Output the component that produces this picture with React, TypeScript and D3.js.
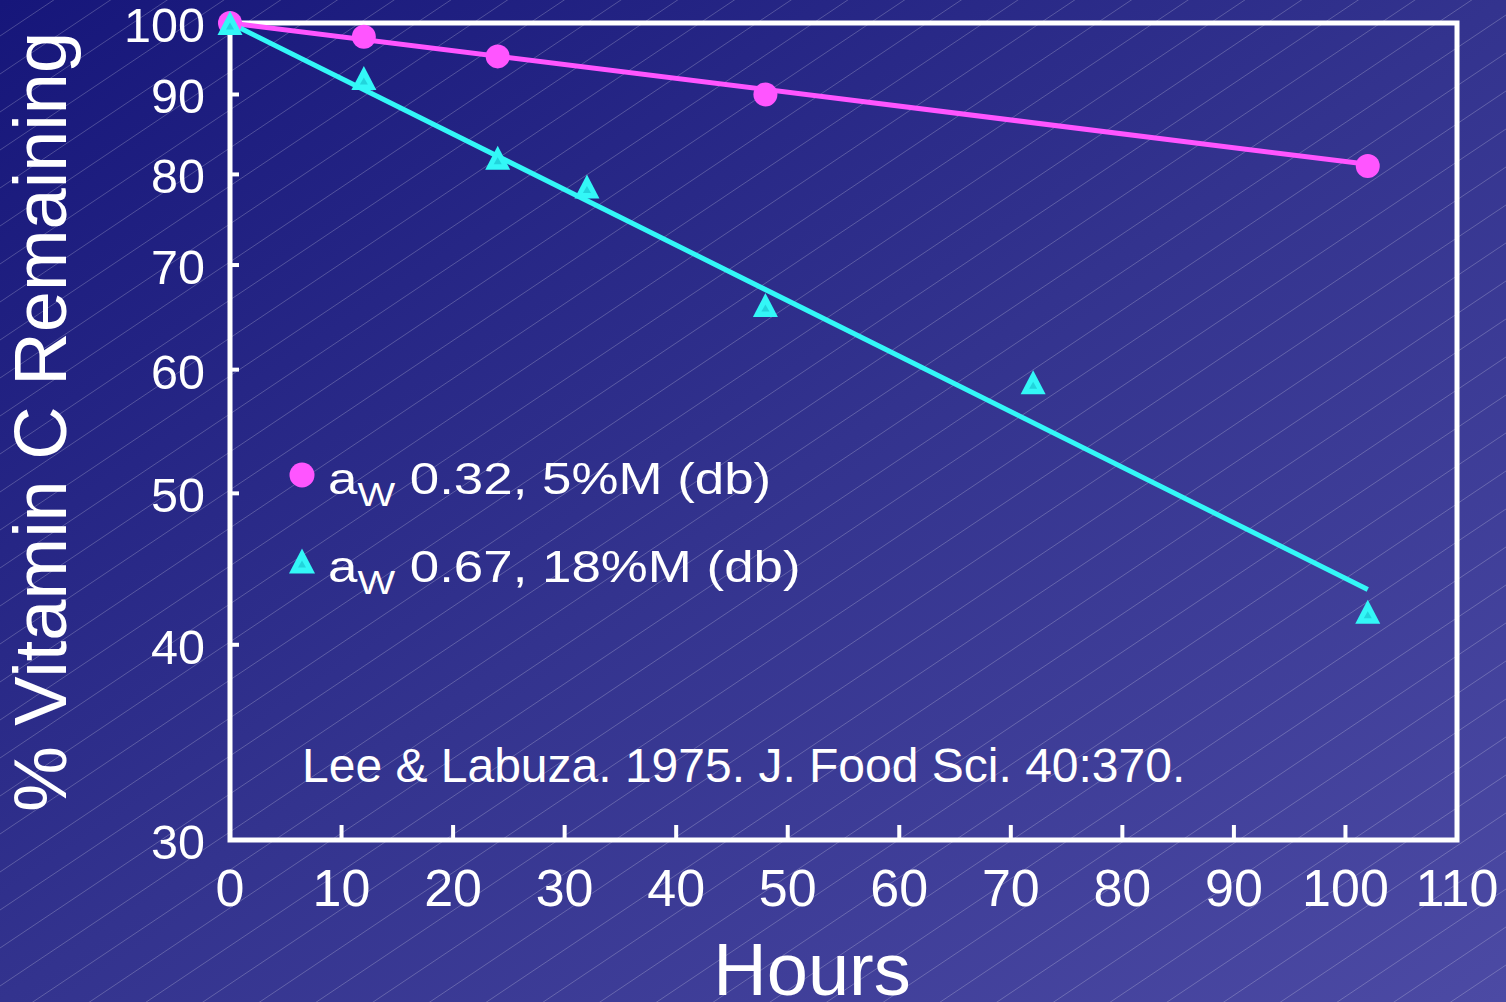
import React from "react";
import * as d3 from "d3";

// ---- data ----
const hoursLow = [0, 12, 24, 48, 102];
const vitCLow = [100, 98, 95.2, 90, 81];
const hoursHigh = [0, 12, 24, 32, 48, 72, 102];
const vitCHigh = [100, 92.2, 82, 78.6, 66, 58.9, 42];
const fitHours = [0, 102];
const fitLow = [100, 81.2];
const fitHigh = [100, 43.4];
const xTicks = [0, 10, 20, 30, 40, 50, 60, 70, 80, 90, 100, 110];
const yTicks = [30, 40, 50, 60, 70, 80, 90, 100];
const legendLabels = [
  { sub: "W", rest: " 0.32, 5%M (db)" },
  { sub: "W", rest: " 0.67, 18%M (db)" },
];
const citation = "Lee & Labuza. 1975. J. Food Sci. 40:370.";
const xTitle = "Hours";
const yTitle = "% Vitamin C Remaining";

const W = 1506;
const H = 1002;
const PINK = "#ff55ff";
const CYAN = "#33f7f7";
const FONT = "'Liberation Sans', Arial, Helvetica, sans-serif";

export default function App() {
  const x = d3.scaleLinear().domain([0, 110]).range([230, 1457]);
  const y = d3.scaleLog().domain([30, 100]).range([840, 23]);

  const line = d3
    .line<[number, number]>()
    .x((d) => x(d[0]))
    .y((d) => y(d[1]));

  const tri = (cx: number, cy: number, w: number, h: number) =>
    `M${cx},${cy - h / 2}L${cx + w / 2},${cy + h / 2}L${cx - w / 2},${cy + h / 2}Z`;

  // decorative diagonal hatch lines
  const hatch: number[] = [];
  for (let c = -40; c < H + W * 0.67 + 40; c += 38) hatch.push(c);

  return (
    <svg
      width={W}
      height={H}
      style={{ position: "absolute", left: 0, top: 0, display: "block" }}
      fontFamily={FONT}
    >
      <defs>
        <linearGradient id="bg" x1="0" y1="0" x2="1" y2="1">
          <stop offset="0" stopColor="#16167a" />
          <stop offset="0.5" stopColor="#33338e" />
          <stop offset="1" stopColor="#4c4aa4" />
        </linearGradient>
      </defs>
      <rect x={0} y={0} width={W} height={H} fill="url(#bg)" />
      <g stroke="rgba(255,255,255,0.22)" strokeWidth={1}>
        {hatch.map((c, i) => (
          <line key={i} x1={0} y1={c} x2={W} y2={c - W * 0.67} />
        ))}
      </g>

      {/* frame */}
      <rect
        x={x(0)}
        y={y(100)}
        width={x(110) - x(0)}
        height={y(30) - y(100)}
        fill="none"
        stroke="#ffffff"
        strokeWidth={5}
      />
      {/* ticks */}
      <g stroke="#ffffff" strokeWidth={4}>
        {xTicks
          .filter((t) => t > 0 && t < 110)
          .map((t) => (
            <line key={t} x1={x(t)} x2={x(t)} y1={y(30)} y2={y(30) - 15} />
          ))}
        {yTicks
          .filter((t) => t > 30 && t < 100)
          .map((t) => (
            <line key={t} x1={x(0)} x2={x(0) + 9} y1={y(t)} y2={y(t)} />
          ))}
      </g>
      <g fill="#ffffff" fontSize={52} textAnchor="middle">
        {xTicks.map((t) => (
          <text key={t} x={x(t)} y={906}>
            {t}
          </text>
        ))}
      </g>
      <g fill="#ffffff" fontSize={48.5} textAnchor="end">
        {yTicks.map((t) => (
          <text key={t} x={205} y={y(t) + 19}>
            {t}
          </text>
        ))}
      </g>

      {/* titles */}
      <text x={812} y={995} fill="#ffffff" fontSize={74} textAnchor="middle">
        {xTitle}
      </text>
      <text
        transform="translate(66,422) rotate(-90)"
        fill="#ffffff"
        fontSize={74}
        textAnchor="middle"
      >
        {yTitle}
      </text>

      {/* fit lines */}
      <path
        d={line(fitHours.map((h, i) => [h, fitLow[i]]) as [number, number][]) || ""}
        fill="none"
        stroke={PINK}
        strokeWidth={5}
      />
      <path
        d={line(fitHours.map((h, i) => [h, fitHigh[i]]) as [number, number][]) || ""}
        fill="none"
        stroke={CYAN}
        strokeWidth={5}
      />

      {/* markers */}
      {hoursLow.map((h, i) => (
        <circle key={"c" + i} cx={x(h)} cy={y(vitCLow[i])} r={12} fill={PINK} />
      ))}
      {hoursHigh.map((h, i) => (
        <g key={"t" + i}>
          <path d={tri(x(h), y(vitCHigh[i]), 25, 24)} fill={CYAN} />
          <path d={tri(x(h), y(vitCHigh[i]) + 3, 8, 7)} fill="#22d4dc" />
        </g>
      ))}

      {/* legend */}
      <circle cx={302} cy={475} r={12.5} fill={PINK} />
      <path d={tri(302, 561, 26, 25)} fill={CYAN} />
      <path d={tri(302, 564, 8, 7)} fill="#22d4dc" />
      {legendLabels.map((l, i) => (
        <text
          key={i}
          transform={`translate(328,${494 + i * 88}) scale(1.175,1)`}
          fill="#ffffff"
          fontSize={45}
        >
          a
          <tspan fontSize={34} dy={12}>
            {l.sub}
          </tspan>
          <tspan dy={-12}>{l.rest}</tspan>
        </text>
      ))}

      {/* citation */}
      <text x={302} y={782} fill="#ffffff" fontSize={48}>
        {citation}
      </text>
    </svg>
  );
}
